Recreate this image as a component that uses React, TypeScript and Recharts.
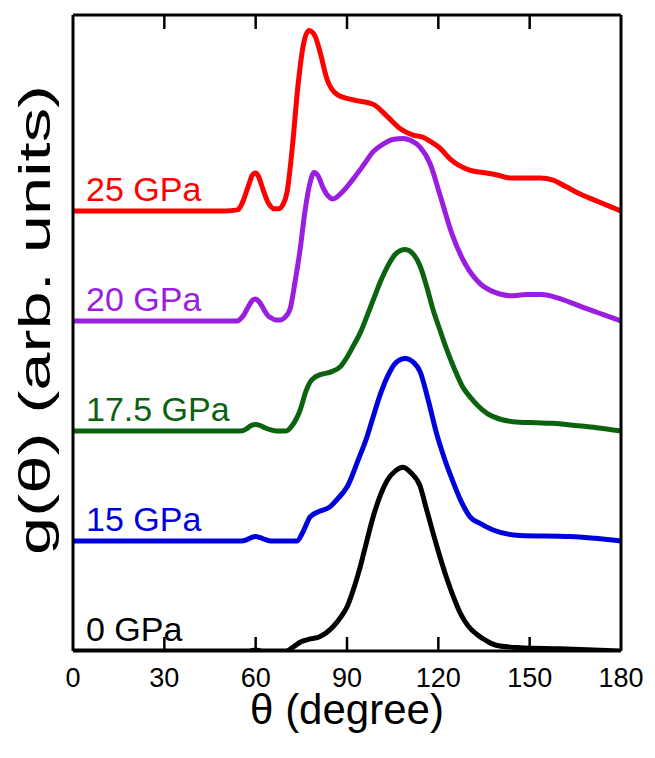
import React from 'react';
import { LineChart, Line, XAxis, YAxis } from 'recharts';

// Pressures (series), in drawing order bottom -> top
const PRESSURES = ['0 GPa', '15 GPa', '17.5 GPa', '20 GPa', '25 GPa'];
const OFFSETS = [0, 1, 2, 3, 4];
const COLORS = ['#000000', '#0000dd', '#0b620f', '#9a1ee0', '#ff0000'];
const X_DOMAIN = [0, 180];
const X_TICKS = [0, 30, 60, 90, 120, 150, 180];
const INNER_TICKS = [30, 60, 90, 120, 150];

// 0 GPa
const THETA_0 = [0, 58, 60, 62, 66, 70, 72.5, 74.6, 78, 81, 85.4, 88, 90, 92, 94.3, 96.5, 98.6, 101, 103.2, 106, 108.4, 111, 114, 116, 118.3, 120.5, 122.9, 125, 127.1, 130, 132.7, 136, 139.3, 146.8, 160, 180];
const G_0 = [0, 0, 0.01, 0, 0, 0, 0.04, 0.08, 0.11, 0.13, 0.22, 0.31, 0.4, 0.55, 0.76, 1.0, 1.22, 1.42, 1.55, 1.64, 1.67, 1.62, 1.5, 1.3, 1.07, 0.86, 0.65, 0.49, 0.35, 0.22, 0.15, 0.09, 0.05, 0.03, 0.02, 0];
// 15 GPa
const THETA_15 = [0, 55, 57, 58.5, 60, 61.5, 63, 65, 73.5, 75.5, 77.9, 81, 84.4, 86.5, 88.7, 90, 91.5, 93.3, 96.6, 98.6, 100.9, 103.2, 106, 109.1, 112, 114, 116.5, 119.6, 122, 124.8, 127.5, 130.4, 133.7, 138, 146.8, 163.3, 180];
const G_15 = [0, 0, 0.01, 0.03, 0.04, 0.03, 0.015, 0, 0, 0.08, 0.22, 0.27, 0.31, 0.37, 0.44, 0.49, 0.58, 0.71, 0.95, 1.13, 1.33, 1.49, 1.62, 1.66, 1.62, 1.54, 1.3, 0.96, 0.75, 0.54, 0.36, 0.22, 0.16, 0.1, 0.05, 0.04, 0];
// 17.5 GPa
const THETA_175 = [0, 55, 57, 58.5, 60, 61.5, 63, 65, 67, 70, 72, 74.6, 76.5, 78, 79.5, 81, 85, 88, 90, 92, 94.3, 96.5, 98.6, 101, 103.2, 106, 109.1, 112, 114, 116, 118.3, 120.5, 122.9, 125.5, 128, 130.4, 133, 136, 141.3, 146.8, 152, 157.7, 165, 172, 180];
const G_175 = [0, 0, 0.02, 0.05, 0.06, 0.05, 0.03, 0.01, 0, 0, 0.05, 0.19, 0.36, 0.45, 0.49, 0.51, 0.54, 0.59, 0.67, 0.77, 0.89, 1.04, 1.19, 1.36, 1.49, 1.61, 1.65, 1.6, 1.5, 1.33, 1.1, 0.92, 0.73, 0.55, 0.4, 0.31, 0.23, 0.16, 0.1, 0.08, 0.075, 0.07, 0.05, 0.03, 0];
// 20 GPa
const THETA_20 = [0, 54, 55, 56, 57, 58, 59, 60, 61, 62, 63, 64, 65, 66.5, 68, 69.5, 71.3, 72.9, 74.6, 76.2, 77.8, 79.2, 80.5, 82, 83.7, 85.4, 88, 92, 95.5, 98.6, 102, 105, 108.4, 111, 114, 117.3, 120.6, 124.5, 128.8, 133.7, 138.6, 143.6, 149, 154, 158, 163.3, 168, 174, 180];
const G_20 = [0, 0, 0.02, 0.05, 0.1, 0.15, 0.19, 0.2, 0.18, 0.14, 0.09, 0.05, 0.03, 0.01, 0.01, 0.03, 0.11, 0.35, 0.65, 1.0, 1.25, 1.35, 1.32, 1.22, 1.14, 1.11, 1.16, 1.29, 1.42, 1.54, 1.61, 1.65, 1.66, 1.64, 1.58, 1.43, 1.14, 0.79, 0.52, 0.34, 0.26, 0.23, 0.24, 0.24, 0.22, 0.17, 0.12, 0.06, 0];
// 25 GPa
const THETA_25 = [0, 50, 54, 55, 56, 57, 58, 59, 60, 61, 62, 63, 64, 65, 66, 67.5, 69, 70.3, 71.9, 73.9, 75.6, 77.5, 79.5, 81.1, 83.4, 86.7, 92, 98.6, 103.2, 107.4, 111.7, 115, 117.5, 120.6, 124, 127.1, 130.5, 134.7, 139, 143.6, 148, 153.4, 157.7, 162, 166.6, 173, 180];
const G_25 = [0, 0, 0.01, 0.04, 0.1, 0.18, 0.26, 0.33, 0.345, 0.31, 0.23, 0.15, 0.08, 0.04, 0.02, 0.02, 0.06, 0.17, 0.54, 1.14, 1.5, 1.64, 1.59, 1.45, 1.2, 1.06, 1.01, 0.97, 0.86, 0.75, 0.69, 0.67, 0.63, 0.57, 0.47, 0.41, 0.37, 0.35, 0.33, 0.3, 0.3, 0.3, 0.28, 0.22, 0.155, 0.08, 0];

const THETAS = [THETA_0, THETA_15, THETA_175, THETA_20, THETA_25];
const GS = [G_0, G_15, G_175, G_20, G_25];

const Y_MAX = 5.782;
const TICK_PX = 14;
const FONT = '"Liberation Sans", Arial, Helvetica, sans-serif';

const seriesData = THETAS.map((th, i) =>
  th.map((t, j) => ({ x: t, y: GS[i][j] + OFFSETS[i] }))
);

const tickX = (vb: any, t: number) =>
  vb.x + (vb.width * (t - X_DOMAIN[0])) / (X_DOMAIN[1] - X_DOMAIN[0]);

const makeLabel = (name: string, color: string) => (props: any) => {
  if (props.index !== 0) return null;
  return (
    <text
      key={name}
      x={props.x + 13}
      y={props.y - 10}
      fill={color}
      fontSize={34}
      fontFamily={FONT}
      textAnchor="start"
    >
      {name}
    </text>
  );
};

// bottom axis: inward ticks + axis title
const BottomDecor = (props: any) => {
  const vb = props.viewBox;
  if (!vb) return null;
  return (
    <g>
      {INNER_TICKS.map((t) => (
        <line
          key={t}
          x1={tickX(vb, t)}
          x2={tickX(vb, t)}
          y1={vb.y}
          y2={vb.y - TICK_PX}
          stroke="#000"
          strokeWidth={2.5}
        />
      ))}
      <text
        x={vb.x + vb.width / 2}
        y={vb.y + vb.height - 24}
        textAnchor="middle"
        fontSize={42}
        fontFamily={FONT}
        fill="#000"
      >
        θ (degree)
      </text>
    </g>
  );
};

// top axis: inward ticks
const TopDecor = (props: any) => {
  const vb = props.viewBox;
  if (!vb) return null;
  const y0 = vb.y + vb.height;
  return (
    <g>
      {INNER_TICKS.map((t) => (
        <line
          key={t}
          x1={tickX(vb, t)}
          x2={tickX(vb, t)}
          y1={y0}
          y2={y0 + TICK_PX}
          stroke="#000"
          strokeWidth={2.5}
        />
      ))}
    </g>
  );
};

const YLabel = (props: any) => {
  const vb = props.viewBox || { x: 64, y: 7, width: 1, height: 636 };
  const cx = vb.x + vb.width - 23;
  const cy = vb.y + vb.height / 2 - 13;
  return (
    <text
      x={cx}
      y={cy}
      transform={`rotate(-90, ${cx}, ${cy})`}
      textAnchor="middle"
      fontSize={44}
      fontFamily={FONT}
      fill="#000"
      textLength={470}
      lengthAdjust="spacingAndGlyphs"
    >
      g(θ) (arb. units)
    </text>
  );
};

export default function App() {
  return (
    <LineChart
      width={640}
      height={740}
      margin={{ top: 6, right: 26, bottom: 0, left: 64 }}
      style={{ fontFamily: FONT }}
    >
      <XAxis
        xAxisId="bottom"
        dataKey="x"
        type="number"
        domain={X_DOMAIN}
        ticks={X_TICKS}
        orientation="bottom"
        height={97}
        tickSize={0}
        tickMargin={17}
        axisLine={{ stroke: '#000', strokeWidth: 3 }}
        tickLine={false}
        tick={{ fill: '#000', fontSize: 27, fontFamily: FONT }}
        interval={0}
        allowDataOverflow
        label={{ content: BottomDecor }}
      />
      <XAxis
        xAxisId="top"
        dataKey="x"
        type="number"
        domain={X_DOMAIN}
        orientation="top"
        height={1}
        axisLine={{ stroke: '#000', strokeWidth: 3 }}
        tickLine={false}
        tick={false}
        allowDataOverflow
        label={{ content: TopDecor }}
      />
      <YAxis
        yAxisId="left"
        type="number"
        domain={[0, Y_MAX]}
        width={1}
        tick={false}
        tickLine={false}
        axisLine={{ stroke: '#000', strokeWidth: 3 }}
        allowDataOverflow
        label={{ content: YLabel }}
      />
      <YAxis
        yAxisId="right"
        orientation="right"
        type="number"
        domain={[0, Y_MAX]}
        width={1}
        tick={false}
        tickLine={false}
        axisLine={{ stroke: '#000', strokeWidth: 3 }}
        allowDataOverflow
      />
      {seriesData.map((d, i) => (
        <Line
          key={PRESSURES[i]}
          data={d}
          dataKey="y"
          xAxisId="bottom"
          yAxisId="left"
          type="monotone"
          stroke={COLORS[i]}
          strokeWidth={5}
          dot={false}
          activeDot={false}
          isAnimationActive={false}
          label={makeLabel(PRESSURES[i], COLORS[i])}
        />
      ))}
    </LineChart>
  );
}
